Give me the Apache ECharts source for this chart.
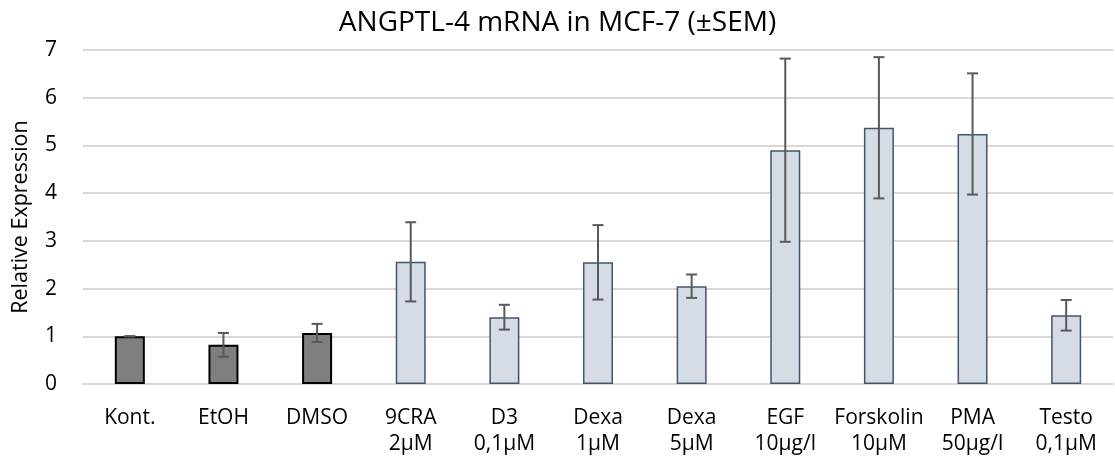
<!DOCTYPE html>
<html>
<head>
<meta charset="utf-8">
<script src="https://cdn.jsdelivr.net/npm/echarts@6/dist/echarts.min.js"></script>
<style>
html, body { margin: 0; padding: 0; background: #fff; }
#chart { width: 1115px; height: 457px; }
</style>
</head>
<body>
<div id="chart"></div>
<script>
var categories = ['Kont.', 'EtOH', 'DMSO', '9CRA\n2µM', 'D3\n0,1µM', 'Dexa\n1µM', 'Dexa\n5µM', 'EGF\n10µg/l', 'Forskolin\n10µM', 'PMA\n50µg/l', 'Testo\n0,1µM'];
var values = [1.0, 0.82, 1.07, 2.56, 1.40, 2.55, 2.05, 4.90, 5.37, 5.24, 1.44];
var sem = [0, 0.25, 0.19, 0.83, 0.26, 0.78, 0.245, 1.92, 1.48, 1.27, 0.32];
var controls = 3; // first three are vehicle controls (dark bars)

var font = '"Open Sans", sans-serif';

var barData = values.map(function(v, i) {
    var dark = i < controls;
    return {
        value: v,
        itemStyle: {
            color: dark ? '#7f7f7f' : '#d6dce5',
            borderColor: dark ? '#000000' : '#44546a',
            borderWidth: dark ? 2 : 1.5
        }
    };
});

var errData = values.map(function(v, i) {
    return [i, v - sem[i], v + sem[i]];
});

var chart = echarts.init(document.getElementById('chart'));
var option = {
    animation: false,
    title: {
        text: 'ANGPTL-4 mRNA in MCF-7 (±SEM)',
        left: 'center',
        top: 4,
        textStyle: { fontFamily: font, fontSize: 28, fontWeight: 'normal', color: '#000' }
    },
    grid: { left: 83, right: 2, top: 50, bottom: 70 },
    xAxis: {
        type: 'category',
        data: categories,
        axisLine: { lineStyle: { color: '#d9d9d9', width: 2 } },
        axisTick: { show: false },
        axisLabel: {
            fontFamily: font, fontSize: 21, color: '#000',
            margin: 21, lineHeight: 26, interval: 0
        }
    },
    yAxis: {
        type: 'value',
        min: 0, max: 7, interval: 1,
        name: 'Relative Expression',
        nameLocation: 'middle',
        nameGap: 51,
        nameTextStyle: { fontFamily: font, fontSize: 21.5, color: '#000' },
        axisLabel: { fontFamily: font, fontSize: 21, color: '#000', margin: 26 },
        splitLine: { lineStyle: { color: '#d9d9d9', width: 2 } }
    },
    series: [{
        type: 'bar',
        data: barData,
        barWidth: 30
    }, {
        type: 'custom',
        data: errData,
        z: 10,
        renderItem: function(params, api) {
            var i = api.value(0);
            var lo = api.coord([i, api.value(1)]);
            var hi = api.coord([i, api.value(2)]);
            var half = 5.5;
            var style = { stroke: '#595959', lineWidth: 2 };
            return {
                type: 'group',
                children: [
                    { type: 'line', shape: { x1: hi[0], y1: hi[1], x2: lo[0], y2: lo[1] }, style: style },
                    { type: 'line', shape: { x1: hi[0] - half, y1: hi[1], x2: hi[0] + half, y2: hi[1] }, style: style },
                    { type: 'line', shape: { x1: lo[0] - half, y1: lo[1], x2: lo[0] + half, y2: lo[1] }, style: style }
                ]
            };
        }
    }]
};
chart.setOption(option);
</script>
</body>
</html>
